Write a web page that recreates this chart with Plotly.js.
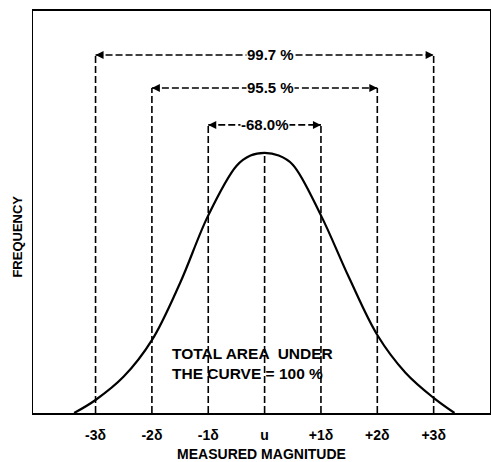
<!DOCTYPE html>
<html>
<head>
<meta charset="utf-8">
<script src="https://cdn.plot.ly/plotly-3.0.1.min.js"></script>
<style>html,body{margin:0;padding:0;background:#fff;}#chart{width:491px;height:462px;}</style>
</head>
<body>
<div id="chart"></div>
<script>
// Curve (x in sigma units, y relative to peak)
const curveX = [-3.38, -3.0, -2.5, -2.0, -1.5, -1.0, -0.5, -0.25, 0, 0.25, 0.5, 1.0, 1.5, 2.0, 2.5, 3.0, 3.37];
const curveY = [0, 0.05, 0.14, 0.28, 0.5, 0.76, 0.95, 0.99, 1.0, 0.99, 0.955, 0.76, 0.52, 0.3, 0.155, 0.058, 0];

// Tick labels
const tickVals = [-3, -2, -1, 0, 1, 2, 3];
const tickText = ['-3δ', '-2δ', '-1δ', 'u', '+1δ', '+2δ', '+3δ'];

// Brackets: sigma multiple, label
const bracketSigma = [1, 2, 3];
const bracketLabels = ['-68.0%', '95.5 %', '99.7 %'];
const bracketLevels = [1.108, 1.25, 1.377];
const bracketLabelX = [0, 0.1, 0.1];

const peakY = 1.0;
const area = 'TOTAL AREA  UNDER<br>THE CURVE = 100 %';
const yTitle = 'FREQUENCY';

const FONT = 'Liberation Sans, Arial, sans-serif';
const dashStyle = '7px,3px';
const shapes = [];
const annotations = [];

bracketSigma.forEach((s, i) => {
  const yTop = bracketLevels[i];
  [-s, s].forEach(xv => {
    shapes.push({type: 'line', xref: 'x', yref: 'y', x0: xv, x1: xv, y0: 0, y1: yTop,
      line: {color: '#000', width: 1.6, dash: dashStyle}});
  });
  shapes.push({type: 'line', xref: 'x', yref: 'y', x0: -s, x1: s, y0: yTop, y1: yTop,
    line: {color: '#000', width: 1.6, dash: dashStyle}});
  annotations.push({x: -s, y: yTop, xref: 'x', yref: 'y', text: '', showarrow: true,
    ax: 9, ay: 0, arrowhead: 2, arrowsize: 1, arrowwidth: 1.6, arrowcolor: '#000'});
  annotations.push({x: s, y: yTop, xref: 'x', yref: 'y', text: '', showarrow: true,
    ax: -9, ay: 0, arrowhead: 2, arrowsize: 1, arrowwidth: 1.6, arrowcolor: '#000'});
  annotations.push({x: bracketLabelX[i], y: yTop, xref: 'x', yref: 'y', text: bracketLabels[i],
    showarrow: false, bgcolor: '#fff', borderpad: 0,
    font: {family: FONT, size: 15, color: '#000', weight: 'bold'}});
});

shapes.push({type: 'line', xref: 'x', yref: 'y', x0: 0, x1: 0, y0: 0, y1: peakY,
  line: {color: '#000', width: 1.6, dash: dashStyle}});

annotations.push({x: -1.68, y: 0.19, xref: 'x', yref: 'y', text: area, showarrow: false,
  xanchor: 'left', yanchor: 'middle', align: 'left',
  font: {family: FONT, size: 15.5, color: '#000', weight: 'bold'}});

// y-axis title (placed as rotated annotation to match reference offset)
annotations.push({x: -0.034, y: 0.44, xref: 'paper', yref: 'paper', text: yTitle, showarrow: false,
  textangle: -90, xanchor: 'center', yanchor: 'middle',
  font: {family: FONT, size: 13, color: '#000', weight: 'bold'}});

const trace = {
  x: curveX, y: curveY, type: 'scatter', mode: 'lines',
  line: {color: '#000', width: 2.2, shape: 'spline', smoothing: 1},
  hoverinfo: 'skip'
};

const layout = {
  width: 491, height: 462,
  margin: {l: 33, r: 1, t: 11, b: 49},
  paper_bgcolor: '#fff', plot_bgcolor: '#fff',
  showlegend: false,
  xaxis: {
    range: [-4.11, 4.0], showgrid: false, zeroline: false,
    showline: true, mirror: true, linecolor: '#000', linewidth: 2,
    tickvals: tickVals, ticktext: tickText, ticks: '', ticklabelstandoff: 8,
    tickfont: {family: FONT, size: 14, color: '#000', weight: 'bold'},
    title: {text: 'MEASURED MAGNITUDE', standoff: 8,
      font: {family: FONT, size: 14, color: '#000', weight: 'bold'}}
  },
  yaxis: {
    range: [0, 1.546], showgrid: false, zeroline: false,
    showline: true, mirror: true, linecolor: '#000', linewidth: 1.5,
    showticklabels: false, ticks: ''
  },
  shapes: shapes,
  annotations: annotations
};

Plotly.newPlot('chart', [trace], layout, {staticPlot: true, displayModeBar: false});
</script>
</body>
</html>
